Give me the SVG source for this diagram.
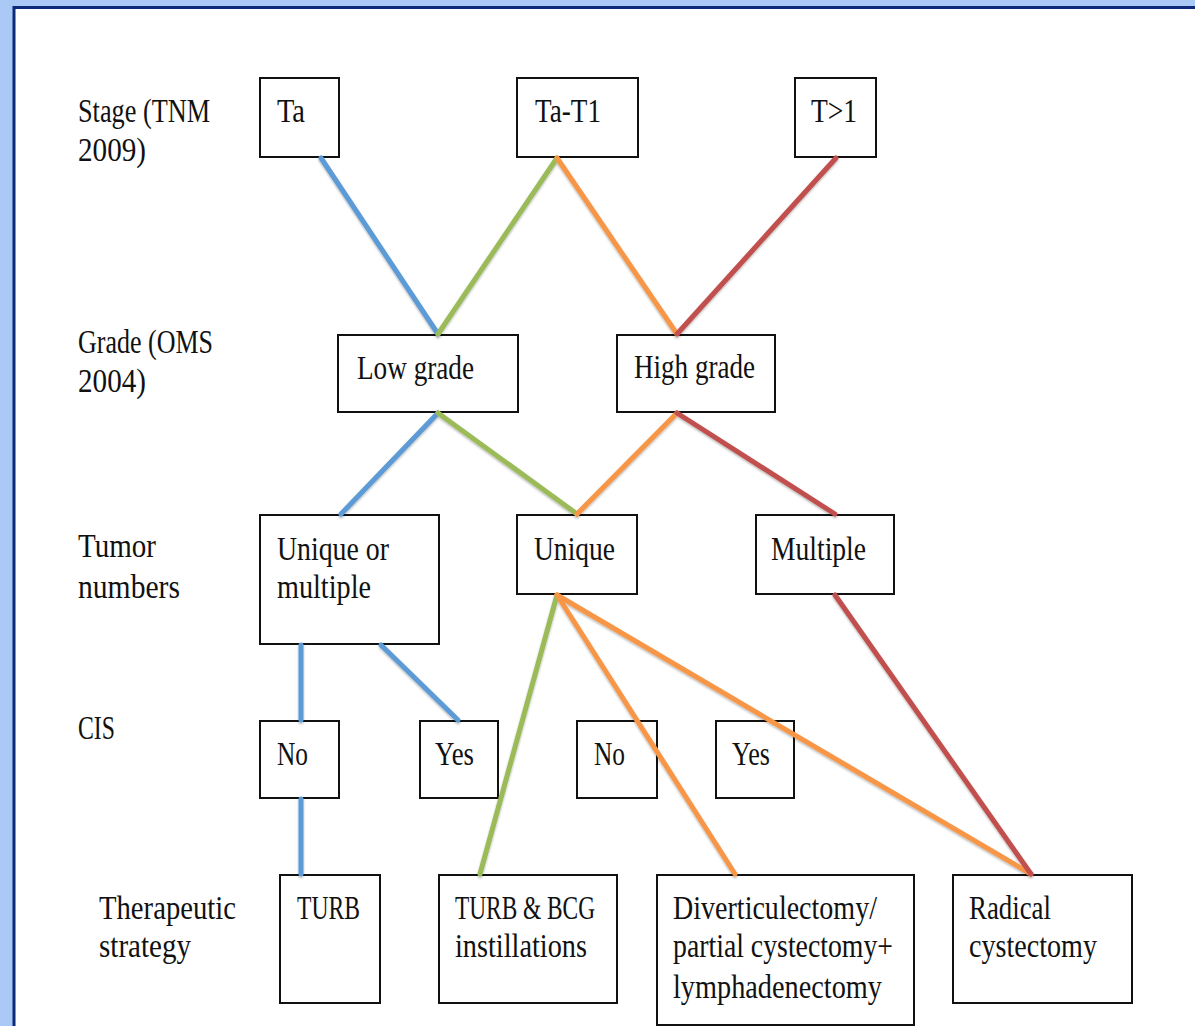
<svg xmlns="http://www.w3.org/2000/svg" width="1195" height="1026" viewBox="0 0 1195 1026">
<defs>
<style>
text{font-family:"Liberation Serif","DejaVu Serif",serif;font-size:34px;fill:#111;}
.box{fill:#fff;stroke:#111;stroke-width:2;}
.c{fill:none;stroke-width:5;stroke-linecap:round;}
.b{stroke:#5b9bd5;}
.g{stroke:#9bbb59;}
.o{stroke:#f79646;}
.r{stroke:#c0504d;}
</style>
<filter id="sh" x="-10%" y="-10%" width="120%" height="130%">
<feDropShadow dx="0" dy="1.5" stdDeviation="1" flood-color="#000" flood-opacity="0.3"/>
</filter>
</defs>
<rect x="0" y="0" width="1195" height="1026" fill="#aac9f4"/>
<rect x="14" y="7.5" width="1200" height="1100" fill="#fff" stroke="#0d2a78" stroke-width="3"/>

<g id="row-labels">
<text x="78" y="122" textLength="132" lengthAdjust="spacingAndGlyphs">Stage (TNM</text>
<text x="78" y="161" textLength="68" lengthAdjust="spacingAndGlyphs">2009)</text>
<text x="78" y="353" textLength="135" lengthAdjust="spacingAndGlyphs">Grade (OMS</text>
<text x="78" y="392" textLength="68" lengthAdjust="spacingAndGlyphs">2004)</text>
<text x="78" y="557" textLength="78" lengthAdjust="spacingAndGlyphs">Tumor</text>
<text x="78" y="598" textLength="102" lengthAdjust="spacingAndGlyphs">numbers</text>
<text x="78" y="739" textLength="37" lengthAdjust="spacingAndGlyphs">CIS</text>
<text x="99" y="919" textLength="137" lengthAdjust="spacingAndGlyphs">Therapeutic</text>
<text x="99" y="957" textLength="92" lengthAdjust="spacingAndGlyphs">strategy</text>
</g>

<g id="n-ta"><rect class="box" x="260" y="78" width="79" height="79"/><text x="277" y="122" textLength="28" lengthAdjust="spacingAndGlyphs">Ta</text></g>
<g id="n-tat1"><rect class="box" x="517" y="78" width="121" height="79"/><text x="535" y="122" textLength="66" lengthAdjust="spacingAndGlyphs">Ta-T1</text></g>
<g id="n-tgt1"><rect class="box" x="795" y="78" width="81" height="79"/><text x="811" y="122" textLength="46" lengthAdjust="spacingAndGlyphs">T&gt;1</text></g>

<g id="n-low"><rect class="box" x="338" y="335" width="180" height="77"/><text x="357" y="379" textLength="117" lengthAdjust="spacingAndGlyphs">Low grade</text></g>
<g id="n-high"><rect class="box" x="617" y="335" width="158" height="77"/><text x="634" y="378" textLength="121" lengthAdjust="spacingAndGlyphs">High grade</text></g>

<g id="n-uom"><rect class="box" x="260" y="515" width="179" height="129"/><text x="277" y="560" textLength="112" lengthAdjust="spacingAndGlyphs">Unique or</text><text x="277" y="598" textLength="94" lengthAdjust="spacingAndGlyphs">multiple</text></g>
<g id="n-unique"><rect class="box" x="517" y="515" width="120" height="79"/><text x="534" y="560" textLength="81" lengthAdjust="spacingAndGlyphs">Unique</text></g>
<g id="n-multiple"><rect class="box" x="756" y="515" width="138" height="79"/><text x="771" y="560" textLength="95" lengthAdjust="spacingAndGlyphs">Multiple</text></g>

<g id="n-no1"><rect class="box" x="260" y="721" width="79" height="77"/><text x="277" y="765" textLength="31" lengthAdjust="spacingAndGlyphs">No</text></g>
<g id="n-yes1"><rect class="box" x="420" y="721" width="78" height="77"/><text x="435" y="765" textLength="39" lengthAdjust="spacingAndGlyphs">Yes</text></g>
<g id="n-no2"><rect class="box" x="577" y="721" width="80" height="77"/><text x="594" y="765" textLength="31" lengthAdjust="spacingAndGlyphs">No</text></g>
<g id="n-yes2"><rect class="box" x="716" y="721" width="78" height="77"/><text x="732" y="765" textLength="38" lengthAdjust="spacingAndGlyphs">Yes</text></g>

<g id="n-turb"><rect class="box" x="280" y="875" width="100" height="128"/><text x="297" y="919" textLength="63" lengthAdjust="spacingAndGlyphs">TURB</text></g>
<g id="n-bcg"><rect class="box" x="439" y="875" width="178" height="128"/><text x="455" y="919" textLength="140" lengthAdjust="spacingAndGlyphs">TURB &amp; BCG</text><text x="455" y="957" textLength="132" lengthAdjust="spacingAndGlyphs">instillations</text></g>
<g id="n-div"><rect class="box" x="657" y="875" width="257" height="150"/><text x="673" y="919" textLength="204" lengthAdjust="spacingAndGlyphs">Diverticulectomy/</text><text x="673" y="957" textLength="220" lengthAdjust="spacingAndGlyphs">partial cystectomy+</text><text x="673" y="998" textLength="209" lengthAdjust="spacingAndGlyphs">lymphadenectomy</text></g>
<g id="n-radical"><rect class="box" x="953" y="875" width="179" height="128"/><text x="969" y="919" textLength="82" lengthAdjust="spacingAndGlyphs">Radical</text><text x="969" y="957" textLength="128" lengthAdjust="spacingAndGlyphs">cystectomy</text></g>

<g id="connectors" filter="url(#sh)">
<line class="c b" x1="321" y1="158" x2="438" y2="334"/>
<line class="c g" x1="557" y1="158" x2="438" y2="334"/>
<line class="c o" x1="557" y1="158" x2="677" y2="334"/>
<line class="c r" x1="836" y1="158" x2="677" y2="334"/>
<line class="c b" x1="438" y1="413" x2="341" y2="514"/>
<line class="c g" x1="438" y1="413" x2="577" y2="514"/>
<line class="c o" x1="677" y1="413" x2="577" y2="514"/>
<line class="c r" x1="677" y1="413" x2="835" y2="514"/>
<line class="c b" x1="301" y1="645" x2="301" y2="720"/>
<line class="c b" x1="381" y1="645" x2="458" y2="720"/>
<line class="c g" x1="557" y1="595" x2="480" y2="874"/>
<line class="c o" x1="557" y1="595" x2="735" y2="874"/>
<line class="c o" x1="557" y1="595" x2="1031" y2="874"/>
<line class="c r" x1="835" y1="595" x2="1031" y2="874"/>
<line class="c b" x1="301" y1="799" x2="301" y2="874"/>
</g>
</svg>
